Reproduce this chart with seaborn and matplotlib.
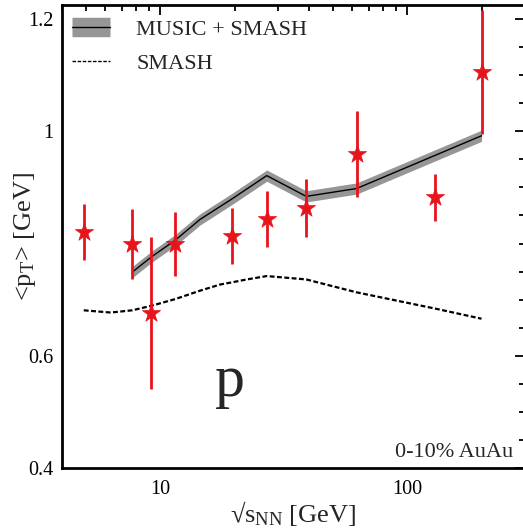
import matplotlib
matplotlib.use("Agg")
import matplotlib.pyplot as plt
import matplotlib.ticker as mticker
from matplotlib.lines import Line2D
from matplotlib.legend_handler import HandlerTuple
import seaborn as sns
import numpy as np
import pandas as pd

# ---- data ----
data_energy = [4.9, 7.7, 9.2, 11.5, 19.6, 27, 39, 62.4, 130, 200]
data_mean_pt = [0.820, 0.799, 0.676, 0.800, 0.813, 0.843, 0.863, 0.959, 0.882, 1.106]
data_err = [0.050, 0.063, 0.135, 0.057, 0.050, 0.050, 0.052, 0.077, 0.041, 0.110]

music_energy = [7.7, 9.2, 11.5, 14.5, 19.6, 27, 39, 62.4, 200]
music_mean_pt = [0.749, 0.776, 0.806, 0.843, 0.880, 0.921, 0.884, 0.898, 0.992]
music_band = [0.010, 0.010, 0.010, 0.010, 0.010, 0.010, 0.010, 0.010, 0.010]

smash_energy = [4.9, 6.3, 7.7, 9.2, 11.5, 14.5, 17.5, 19.6, 22.4, 27, 39, 62.4, 130, 200]
smash_mean_pt = [0.681, 0.677, 0.681, 0.689, 0.701, 0.716, 0.727, 0.731, 0.736, 0.742,
                 0.736, 0.713, 0.684, 0.666]

xticks = [10, 100]
xticklabels = ["10", "100"]
yticks = [0.4, 0.6, 1.0, 1.2]
yticklabels = ["0.4", "0.6", "1", "1.2"]

sns.set_theme(style="white")
plt.rcParams["font.family"] = ["Liberation Serif", "DejaVu Serif"]
plt.rcParams["mathtext.fontset"] = "custom"
plt.rcParams["mathtext.rm"] = "Liberation Serif"
plt.rcParams["mathtext.it"] = "Liberation Serif:italic"

W, H = 523, 528
fig = plt.figure(figsize=(W / 100, H / 100), dpi=100)
ax = fig.add_axes([62 / W, 1 - 468 / H, (525 - 62) / W, (468 - 5) / H])

df_music = pd.DataFrame({"e": music_energy, "m": music_mean_pt,
                         "lo": np.array(music_mean_pt) - np.array(music_band),
                         "hi": np.array(music_mean_pt) + np.array(music_band)})
df_smash = pd.DataFrame({"e": smash_energy, "m": smash_mean_pt})
df_data = pd.DataFrame({"e": data_energy, "m": data_mean_pt, "err": data_err})

ax.fill_between(df_music["e"], df_music["lo"], df_music["hi"], color="#969696",
                lw=0, zorder=1)
sns.lineplot(data=df_music, x="e", y="m", color="black", lw=1.0, ax=ax, zorder=2)
sns.lineplot(data=df_smash, x="e", y="m", color="black", lw=1.6, ax=ax, zorder=2,
             dashes=False, linestyle=(0, (2.2, 1.1)))
ax.errorbar(df_data["e"], df_data["m"], yerr=df_data["err"], fmt="none",
            ecolor="#e8141c", elinewidth=2.0, capsize=0, zorder=3)
sns.scatterplot(data=df_data, x="e", y="m", marker="*", s=190, color="#e8141c",
                edgecolor="#e8141c", linewidth=0.5, ax=ax, zorder=4)

ax.set_xscale("log")
ax.set_xlim(4.0, 300)
ax.set_ylim(0.4, 1.225)
ax.xaxis.set_major_locator(mticker.FixedLocator(xticks))
ax.xaxis.set_major_formatter(mticker.FixedFormatter(xticklabels))
ax.xaxis.set_minor_locator(mticker.LogLocator(base=10, subs=np.arange(2, 10)))
ax.xaxis.set_minor_formatter(mticker.NullFormatter())
ax.yaxis.set_major_locator(mticker.FixedLocator(yticks))
ax.yaxis.set_major_formatter(mticker.FixedFormatter(yticklabels))
ax.yaxis.set_minor_locator(mticker.MultipleLocator(0.05))

ax.tick_params(which="both", direction="in", top=True, right=True, colors="black",
               labelsize=14.5, width=1.3)
ax.tick_params(which="major", length=7, pad=6)
ax.tick_params(which="minor", length=4)
ax.tick_params(axis="x", which="major", pad=9)
for sp in ax.spines.values():
    sp.set_color("black")
    sp.set_linewidth(2.0)

ax.set_xlabel(r"√s$_{\mathrm{NN}}$ [GeV]", fontsize=19)
ax.set_ylabel(r"<p$_{\mathrm{T}}$> [GeV]", fontsize=19)
ax.xaxis.set_label_coords((293 - 62) / 463, (468 - 499) / 463)
ax.yaxis.set_label_coords((38 - 62) / 463, (468 - 237) / 463)

fig.text(230 / W, 1 - 382 / H, "p", fontsize=43, ha="center", va="center")
fig.text(513 / W, 1 - 457 / H, "0-10% AuAu", fontsize=16, ha="right", va="baseline")

h_music = (Line2D([], [], color="#969696", lw=14, solid_capstyle="butt"),
           Line2D([], [], color="black", lw=1.0))
h_smash = Line2D([], [], color="black", lw=1.0, linestyle=(0, (2.5, 1.2)))
leg = ax.legend([h_music, h_smash], ["MUSIC + SMASH", "SMASH"],
                handler_map={tuple: HandlerTuple(ndivide=1, pad=0)},
                loc="upper left", bbox_to_anchor=(72 / W, 1 - 19 / H),
                bbox_transform=fig.transFigure, frameon=False, fontsize=16,
                handlelength=1.7, handleheight=0.7, handletextpad=1.2,
                labelspacing=0.62, borderpad=0, borderaxespad=0)
fig.savefig("out.png", dpi=100)
